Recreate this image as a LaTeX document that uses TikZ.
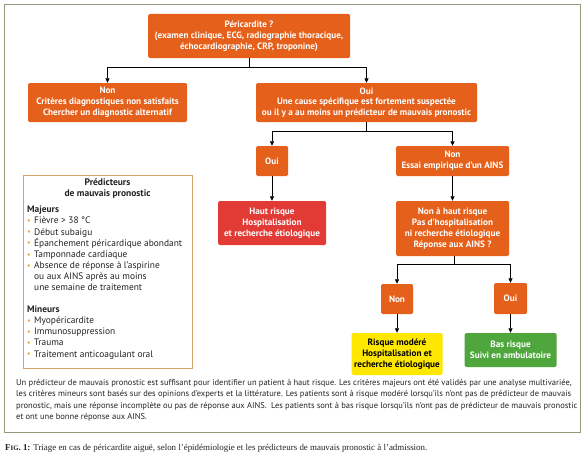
\documentclass[tikz,border=0pt]{standalone}
\usepackage{fontspec}
\setmainfont{PT Sans}
\newfontfamily\capfont{Liberation Serif}
\usetikzlibrary{arrows.meta}
\definecolor{orng}{RGB}{229,96,26}
\definecolor{redb}{RGB}{226,58,52}
\definecolor{yelb}{RGB}{255,232,0}
\definecolor{grnb}{RGB}{78,166,60}
\definecolor{framec}{RGB}{150,150,120}
\definecolor{predc}{RGB}{214,160,105}
\definecolor{bulc}{RGB}{240,160,50}
\definecolor{txtc}{RGB}{35,35,35}
\newcommand\bl{\makebox[7pt][l]{\textcolor{bulc}{\raisebox{0.05ex}{\footnotesize\textbullet}}}}
\begin{document}
\begin{tikzpicture}[x=1pt,y=-1pt,
  box/.style={fill=orng, text=white, font=\bfseries\fontsize{9.2}{10.8}\selectfont, align=center, rounded corners=1.5pt, inner sep=0pt},
  arr/.style={-{Triangle[length=4.5pt,width=4pt]}, line width=0.7pt},
  ln/.style={line width=0.7pt}]
\useasboundingbox (0,0) rectangle (588,460);
\fill[white] (0,0) rectangle (588,460);
\draw[framec, line width=0.9pt] (4.5,4.5) rectangle (580.5,432);

\node[box, minimum width=202pt, minimum height=44pt] (top) at (249,36) {Péricardite ?\\(examen clinique, ECG, radiographie thoracique,\\échocardiographie, CRP, troponine)};
\node[box, minimum width=159pt, minimum height=39pt] (non1) at (107.5,102.5) {Non\\Critères diagnostiques non satisfaits\\Chercher un diagnostic alternatif};
\node[box, minimum width=221pt, minimum height=39pt] (oui1) at (366.5,102.5) {Oui\\Une cause spécifique est fortement suspectée\\ou il y a au moins un prédicteur de mauvais pronostic};
\node[box, minimum width=32pt, minimum height=30pt] (oui2) at (272,161) {Oui};
\node[box, minimum width=113pt, minimum height=30pt] (nonA) at (452.5,161) {Non\\Essai empirique d’un AINS};
\node[box, fill=redb, minimum width=108pt, minimum height=44pt] (haut) at (272,223) {Haut risque\\Hospitalisation\\et recherche étiologique};
\node[box, minimum width=113pt, minimum height=55pt] (nonH) at (452.5,228.5) {Non à haut risque\\Pas d’hospitalisation\\ni recherche étiologique\\Réponse aux AINS ?};
\node[box, minimum width=32pt, minimum height=30pt] (non3) at (397,299) {Non};
\node[box, minimum width=33pt, minimum height=31pt] (oui3) at (510.5,298.5) {Oui};
\node[box, fill=yelb, text=black, minimum width=91pt, minimum height=42pt] (yel) at (397,354) {Risque modéré\\Hospitalisation et\\recherche étiologique};
\node[box, fill=grnb, minimum width=92pt, minimum height=34pt] (grn) at (510.5,350) {Bas risque\\Suivi en ambulatoire};

\coordinate (j1) at (249,67);
\coordinate (j2) at (366.5,131);
\coordinate (j3) at (454.5,264);
\draw[ln] (top.south) -- (j1);
\draw[arr] (j1) -| (non1.north);
\draw[arr] (j1) -| (oui1.north);
\draw[ln] (oui1.south) -- (j2);
\draw[arr] (j2) -| (oui2.north);
\draw[arr] (j2) -| (nonA.north);
\draw[arr] (oui2.south) -- (haut.north);
\draw[arr] (nonA.south) -- (nonH.north);
\draw[ln] (nonH.south -| j3) -- (j3);
\draw[arr] (j3) -| (non3.north);
\draw[arr] (j3) -| (oui3.north);
\draw[arr] (non3.south) -- (yel.north);
\draw[arr] (oui3.south) -- (grn.north);

\node[draw=predc, line width=0.8pt, minimum width=169pt, minimum height=193pt, inner sep=0pt] (pred) at (107.5,271.5) {};
\node[font=\bfseries\fontsize{9.5}{11.6}\selectfont, text=txtc, align=center, inner sep=0pt, anchor=north] (predt) at (107.5,178) {Prédicteurs\\de mauvais pronostic};
\node[font=\fontsize{9.4}{11.1}\selectfont, text=txtc, align=left, inner sep=0pt, anchor=north west] (predl) at (27,206) {\textbf{Majeurs}\\
\bl Fièvre > 38 °C\\
\bl Début subaigu\\
\bl Épanchement péricardique abondant\\
\bl Tamponnade cardiaque\\
\bl Absence de réponse à l’aspirine\\
\hspace*{7pt}ou aux AINS après au moins\\
\hspace*{7pt}une semaine de traitement\\[11pt]
\textbf{Mineurs}\\
\bl Myopéricardite\\
\bl Immunosuppression\\
\bl Trauma\\
\bl Traitement anticoagulant oral};

\node[font=\fontsize{8.5}{11.4}\selectfont, text=txtc, align=left, inner sep=0pt, anchor=north west] (foot) at (16,379) {Un prédicteur de mauvais pronostic est suffisant pour identifier un patient à haut risque. Les critères majeurs ont été validés par une analyse multivariée,\\
les critères mineurs sont basés sur des opinions d’experts et la littérature. Les patients sont à risque modéré lorsqu’ils n’ont pas de prédicteur de mauvais\\
pronostic, mais une réponse incomplète ou pas de réponse aux AINS.\ \ Les patients sont à bas risque lorsqu’ils n’ont pas de prédicteur de mauvais pronostic\\
et ont une bonne réponse aux AINS.};

\node[font=\capfont\fontsize{8.9}{10.5}\selectfont, text=txtc, inner sep=0pt, anchor=west] (cap) at (5,448) {\textbf{F{\fontsize{6.8}{8}\selectfont IG}. 1:} Triage en cas de péricardite aiguë, selon l’épidémiologie et les prédicteurs de mauvais pronostic à l’admission.};
\end{tikzpicture}
\end{document}
